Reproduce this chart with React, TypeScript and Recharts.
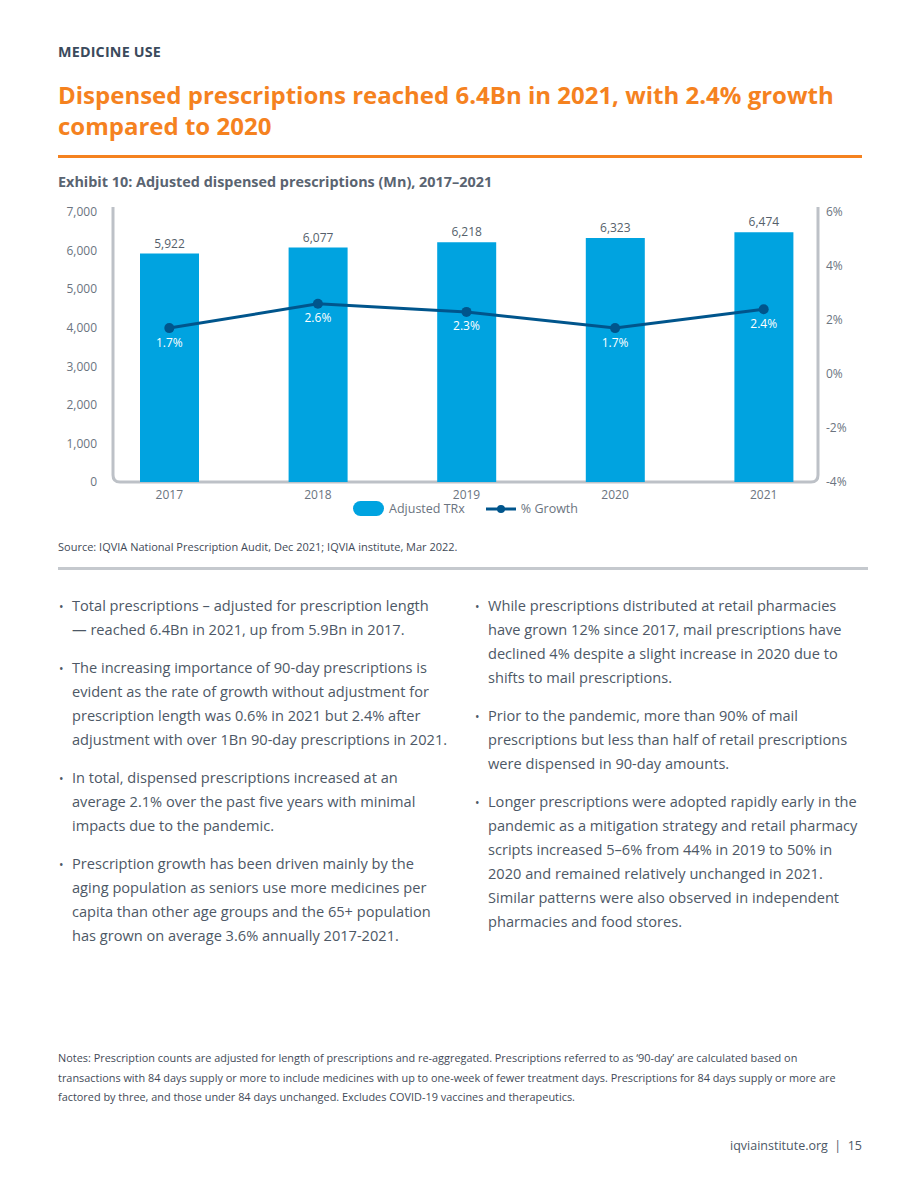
import * as Recharts from "recharts";
import { Bar, ComposedChart, LabelList, Legend, Line, XAxis, YAxis } from "recharts";

const years = ["2017", "2018", "2019", "2020", "2021"];
const adjustedTrx = [5922, 6077, 6218, 6323, 6474];
const growthPct = [1.7, 2.6, 2.3, 1.7, 2.4];
const leftTicks = [0, 1000, 2000, 3000, 4000, 5000, 6000, 7000];
const rightTicks = [-4, -2, 0, 2, 4, 6];

const leftBullets = [
  ["Total prescriptions – adjusted for prescription length", "— reached 6.4Bn in 2021, up from 5.9Bn in 2017."],
  [
    "The increasing importance of 90-day prescriptions is",
    "evident as the rate of growth without adjustment for",
    "prescription length was 0.6% in 2021 but 2.4% after",
    "adjustment with over 1Bn 90-day prescriptions in 2021.",
  ],
  [
    "In total, dispensed prescriptions increased at an",
    "average 2.1% over the past five years with minimal",
    "impacts due to the pandemic.",
  ],
  [
    "Prescription growth has been driven mainly by the",
    "aging population as seniors use more medicines per",
    "capita than other age groups and the 65+ population",
    "has grown on average 3.6% annually 2017-2021.",
  ],
];

const rightBullets = [
  [
    "While prescriptions distributed at retail pharmacies",
    "have grown 12% since 2017, mail prescriptions have",
    "declined 4% despite a slight increase in 2020 due to",
    "shifts to mail prescriptions.",
  ],
  [
    "Prior to the pandemic, more than 90% of mail",
    "prescriptions but less than half of retail prescriptions",
    "were dispensed in 90-day amounts.",
  ],
  [
    "Longer prescriptions were adopted rapidly early in the",
    "pandemic as a mitigation strategy and retail pharmacy",
    "scripts increased 5–6% from 44% in 2019 to 50% in",
    "2020 and remained relatively unchanged in 2021.",
    "Similar patterns were also observed in independent",
    "pharmacies and food stores.",
  ],
];

const notesLines = [
  "Notes: Prescription counts are adjusted for length of prescriptions and re-aggregated. Prescriptions referred to as ‘90-day’ are calculated based on",
  "transactions with 84 days supply or more to include medicines with up to one-week of fewer treatment days. Prescriptions for 84 days supply or more are",
  "factored by three, and those under 84 days unchanged. Excludes COVID-19 vaccines and therapeutics.",
];

const data = years.map((year, i) => ({ year, trx: adjustedTrx[i], growth: growthPct[i] }));

const FONT = "'Open Sans', 'Noto Sans', sans-serif";
const BLUE = "#00a3e0";
const NAVY = "#00558c";
const FRAME = "#bdc1c7";
const AXIS_TEXT = "#6b7480";
const BODY = "#4d5866";

// grey U-shaped frame with rounded bottom corners, drawn from the plot area
function Frame() {
  const usePlotArea = (Recharts as any).usePlotArea;
  const area = usePlotArea ? usePlotArea() : null;
  if (!area) return null;
  const { x, y, width, height } = area;
  const r = 7;
  const top = y - 5;
  const d = `M${x},${top} L${x},${y + height - r} Q${x},${y + height} ${x + r},${y + height} L${x + width - r},${y + height} Q${x + width},${y + height} ${x + width},${y + height - r} L${x + width},${top}`;
  return <path d={d} fill="none" stroke={FRAME} strokeWidth={3} />;
}

function ChartLegend() {
  return (
    <div style={{ display: "flex", justifyContent: "center", alignItems: "center", fontFamily: FONT, fontSize: 12.5, color: AXIS_TEXT, paddingLeft: 11 }}>
      <span style={{ width: 31, height: 15, borderRadius: 8, background: BLUE, display: "inline-block", marginRight: 5 }} />
      <span style={{ marginRight: 20 }}>Adjusted TRx</span>
      <svg width={32} height={12} style={{ marginRight: 4 }}>
        <line x1={1} y1={6} x2={31} y2={6} stroke={NAVY} strokeWidth={3} />
        <circle cx={16} cy={6} r={4} fill={NAVY} />
      </svg>
      <span>% Growth</span>
    </div>
  );
}

function Bullets({ items, left, top }: { items: string[][]; left: number; top: number }) {
  return (
    <div style={{ position: "absolute", left, top, fontFamily: FONT, fontSize: 14.6, color: BODY, lineHeight: "24px" }}>
      {items.map((lines, i) => (
        <div key={i} style={{ position: "relative", paddingLeft: 14, marginBottom: 14 }}>
          <span style={{ position: "absolute", left: 1, top: 2, fontSize: 12 }}>•</span>
          {lines.map((l, j) => (
            <div key={j} style={{ whiteSpace: "nowrap" }}>
              {l}
            </div>
          ))}
        </div>
      ))}
    </div>
  );
}

export default function App() {
  return (
    <div style={{ position: "absolute", left: 0, top: 0, width: 920, height: 1191, background: "#fff", fontFamily: FONT }}>
      <div style={{ position: "absolute", left: 58, top: 42, fontSize: 14.3, fontWeight: 700, color: "#3b4a5c", letterSpacing: 0.2 }}>
        MEDICINE USE
      </div>
      <div style={{ position: "absolute", left: 58, top: 79, fontSize: 24, fontWeight: 700, color: "#f5821f", lineHeight: "31px", width: 820 }}>
        Dispensed prescriptions reached 6.4Bn in 2021, with 2.4% growth
        <br />
        compared to 2020
      </div>
      <div style={{ position: "absolute", left: 58, top: 155, width: 804, height: 3, background: "#f5821f" }} />
      <div style={{ position: "absolute", left: 58, top: 172, fontSize: 14.4, fontWeight: 700, color: "#5a6471" }}>
        Exhibit 10: Adjusted dispensed prescriptions (Mn), 2017–2021
      </div>

      <div style={{ position: "absolute", left: 0, top: 190 }}>
        <ComposedChart width={920} height={340} data={data} margin={{ top: 22, right: 0, bottom: 18, left: 0 }}>
          <XAxis
            dataKey="year"
            padding={{ left: -18, right: -20 }}
            axisLine={false}
            tickLine={false}
            tick={{ fill: AXIS_TEXT, fontSize: 12, fontFamily: FONT }}
            height={30}
          />
          <YAxis
            yAxisId="left"
            width={113}
            domain={[0, 7000]}
            ticks={leftTicks}
            tickFormatter={(v: number) => v.toLocaleString("en-US")}
            axisLine={false}
            tickLine={false}
            tickMargin={10}
            tick={{ fill: AXIS_TEXT, fontSize: 12, fontFamily: FONT }}
          />
          <YAxis
            yAxisId="right"
            orientation="right"
            width={102}
            domain={[-4, 6]}
            ticks={rightTicks}
            tickFormatter={(v: number) => `${v}%`}
            axisLine={false}
            tickLine={false}
            tick={{ fill: AXIS_TEXT, fontSize: 12, fontFamily: FONT }}
          />
          <Legend verticalAlign="middle" align="center" wrapperStyle={{ top: 310, left: 0, width: 920 }} content={() => <ChartLegend />} />
          <Frame />
          <Bar yAxisId="left" dataKey="trx" name="Adjusted TRx" fill={BLUE} barSize={59} isAnimationActive={false}>
            <LabelList
              dataKey="trx"
              position="top"
              offset={6}
              formatter={(v: number) => v.toLocaleString("en-US")}
              style={{ fill: "#555f6b", fontSize: 12, fontFamily: FONT }}
            />
          </Bar>
          <Line
            yAxisId="right"
            dataKey="growth"
            name="% Growth"
            stroke={NAVY}
            strokeWidth={3}
            dot={{ r: 5, fill: NAVY, stroke: NAVY, strokeWidth: 0 }}
            activeDot={false}
            isAnimationActive={false}
          >
            <LabelList
              dataKey="growth"
              position="bottom"
              offset={10}
              formatter={(v: number) => `${v}%`}
              style={{ fill: "#ffffff", fontSize: 12, fontFamily: FONT }}
            />
          </Line>
        </ComposedChart>
      </div>

      <div style={{ position: "absolute", left: 58, top: 539, fontSize: 11, color: "#3f4a57" }}>
        Source: IQVIA National Prescription Audit, Dec 2021; IQVIA institute, Mar 2022.
      </div>
      <div style={{ position: "absolute", left: 58, top: 567, width: 810, height: 3, background: "#c5c9ce" }} />

      <Bullets items={leftBullets} left={58} top={593} />
      <Bullets items={rightBullets} left={474} top={593} />

      <div style={{ position: "absolute", left: 58, top: 1048, fontSize: 10.9, color: "#3f4a57", lineHeight: "19.5px" }}>
        {notesLines.map((l, i) => (
          <div key={i} style={{ whiteSpace: "nowrap" }}>
            {l}
          </div>
        ))}
      </div>
      <div style={{ position: "absolute", right: 58, top: 1137, fontSize: 12.5, color: "#4d5866" }}>
        iqviainstitute.org&nbsp;&nbsp;|&nbsp;&nbsp;15
      </div>
    </div>
  );
}
